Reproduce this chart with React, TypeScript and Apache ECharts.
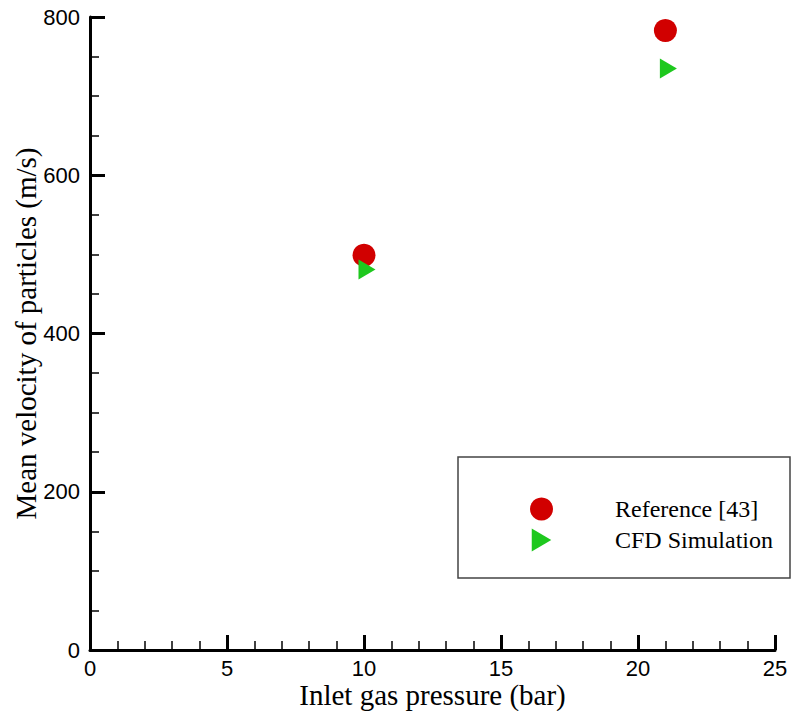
import React, { useEffect, useRef } from "react";
import * as echarts from "echarts";

const pressures = [10, 21];
const referenceVelocity = [499, 783];
const cfdVelocity = [481, 735];
const xTicks = [0, 5, 10, 15, 20, 25];
const yTicks = [0, 200, 400, 600, 800];
const seriesNames = ["Reference [43]", "CFD Simulation"];

const TRI = "path://M0,0 L17,10 L0,20 Z";

export default function App() {
  const ref = useRef<HTMLDivElement>(null);
  useEffect(() => {
    if (!ref.current) return;
    const chart = echarts.init(ref.current, undefined, { renderer: "svg" });
    const axisCommon = {
      type: "value" as const,
      splitLine: { show: false },
      axisLine: { show: true, lineStyle: { color: "#000", width: 3 } },
      axisTick: { show: true, inside: true, length: 15, lineStyle: { color: "#000", width: 3 } },
      minorTick: { show: true, length: 9, lineStyle: { color: "#000", width: 1.5 } },
      axisLabel: { color: "#000", fontFamily: "Liberation Sans", fontSize: 22, lineHeight: 22 },
      nameLocation: "middle" as const,
      nameMoveOverlap: false,
      nameTextStyle: { color: "#000", fontFamily: "Liberation Serif", fontSize: 29, lineHeight: 29 },
    };
    chart.setOption({
      animation: false,
      backgroundColor: "#fff",
      grid: { left: 90, right: 17, top: 17, bottom: 61, containLabel: false, outerBoundsMode: "none" },
      xAxis: {
        ...axisCommon,
        min: xTicks[0],
        max: xTicks[xTicks.length - 1],
        interval: xTicks[1] - xTicks[0],
        minorTick: { ...axisCommon.minorTick, splitNumber: 5 },
        axisLabel: { ...axisCommon.axisLabel, margin: 7 },
        name: "Inlet gas pressure (bar)",
        nameGap: 30,
      },
      yAxis: {
        ...axisCommon,
        min: yTicks[0],
        max: yTicks[yTicks.length - 1],
        interval: yTicks[1] - yTicks[0],
        minorTick: { ...axisCommon.minorTick, splitNumber: 4 },
        axisLabel: { ...axisCommon.axisLabel, margin: 10 },
        name: "Mean velocity of particles (m/s)",
        nameGap: 50,
      },
      legend: {
        orient: "vertical",
        left: 530,
        top: 497,
        padding: 0,
        itemWidth: 23,
        itemHeight: 23,
        itemGap: 7,
        textStyle: {
          color: "#000",
          fontFamily: "Liberation Serif",
          fontSize: 24,
          lineHeight: 24,
          padding: [0, 0, 0, 57],
        },
        data: seriesNames,
      },
      graphic: [
        {
          type: "rect",
          shape: { x: 458, y: 457, width: 332, height: 121 },
          style: { fill: "none", stroke: "#444", lineWidth: 1.5 },
          silent: true,
        },
      ],
      series: [
        {
          name: seriesNames[0],
          type: "scatter",
          symbol: "circle",
          symbolSize: 23,
          itemStyle: { color: "#d10000", opacity: 1 },
          data: pressures.map((p, i) => [p, referenceVelocity[i]]),
          z: 2,
        },
        {
          name: seriesNames[1],
          type: "scatter",
          symbol: TRI,
          symbolSize: [17, 20],
          symbolOffset: [3, 0],
          itemStyle: { color: "#1ec81e", opacity: 1 },
          data: pressures.map((p, i) => [p, cfdVelocity[i]]),
          z: 3,
        },
      ],
    });
    return () => chart.dispose();
  }, []);
  return (
    <div
      ref={ref}
      style={{ position: "fixed", left: 0, top: 0, width: 792, height: 711, background: "#fff" }}
    />
  );
}
